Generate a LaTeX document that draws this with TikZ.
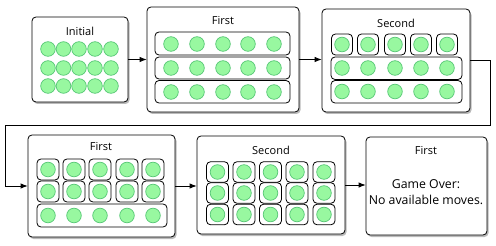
\documentclass[tikz,border=0pt]{standalone}
\usepackage{fontspec}
\setmainfont{Open Sans}
\usetikzlibrary{arrows.meta,shadows,fit}
\definecolor{ballfill}{RGB}{152,248,160}
\definecolor{balldraw}{RGB}{88,200,118}
\begin{document}
\begin{tikzpicture}[x=1pt,y=-1pt,
  panel/.style={draw=black, line width=0.8pt, rounded corners=4pt, fill=white, inner sep=0pt,
    drop shadow={shadow xshift=1.5pt, shadow yshift=-2pt, opacity=0.45, fill=black!60}},
  rowbox/.style={draw=black, line width=0.8pt, rounded corners=4pt, fill=white, inner sep=0pt},
  ball/.style={circle, fill=ballfill, draw=balldraw, line width=0.7pt, minimum size=14.6pt, inner sep=0pt},
  title/.style={font=\fontsize{11}{12}\selectfont, inner sep=0pt},
  conn/.style={draw=black, line width=0.8pt, -{Latex[length=7pt,width=5.5pt]}}]
\useasboundingbox (0,0) rectangle (496,246);

% panels
\node[panel, fit={(32,17) (128,102)}] (p1) {};
\node[panel, fit={(147,7) (299,112)}] (p2) {};
\node[panel, fit={(322,9) (470,112)}] (p3) {};
\node[panel, fit={(28,135) (175,237)}] (p4) {};
\node[panel, fit={(197,136) (345,234)}] (p5) {};
\node[panel, fit={(366,137) (487,235)}] (p6) {};

% titles
\node[title] (t1) at (80,31) {Initial};
\node[title] (t2) at (223,21) {First};
\node[title] (t3) at (396,23) {Second};
\node[title] (t4) at (101,147) {First};
\node[title] (t5) at (271,150) {Second};
\node[title] (t6) at (426,150.5) {First};
\node[title, align=center, font=\fontsize{12.3}{16.3}\selectfont] (t7) at (426,192) {Game Over:\\No available moves.};

% panel 1 balls
\foreach \r/\y in {1/49,2/68,3/86}
  \foreach \c/\x in {1/48,2/63.5,3/79,4/95,5/111}
    \node[ball] (a-\r-\c) at (\x,\y) {};

% panel 2 rows
\node[rowbox, fit={(155,32) (290,55)}] (r2-1) {};
\node[rowbox, fit={(155,57) (290,79)}] (r2-2) {};
\node[rowbox, fit={(155,80.5) (290,103)}] (r2-3) {};
\foreach \r/\y in {1/44,2/68,3/92}
  \foreach \c/\x in {1/171,2/197,3/223,4/248,5/274}
    \node[ball] (b-\r-\c) at (\x,\y) {};

% panel 3
\foreach \c/\x in {1/342,2/368,3/395,4/421,5/447}
  \node[rowbox, minimum width=21pt, minimum height=21pt] (s3-\c) at (\x,44.5) {};
\node[rowbox, fit={(331,57) (462,79.5)}] (r3-2) {};
\node[rowbox, fit={(331,80.5) (462,103)}] (r3-3) {};
\foreach \r/\y in {1/44.5,2/68,3/91.5}
  \foreach \c/\x in {1/342,2/368,3/395,4/421,5/447}
    \node[ball] (c-\r-\c) at (\x,\y) {};

% panel 4
\foreach \r/\y in {1/169.5,2/191.5}
  \foreach \c/\x in {1/48,2/74,3/100,4/127,5/153}
    \node[rowbox, minimum width=22pt, minimum height=21pt] (s4-\r-\c) at (\x,\y) {};
\node[rowbox, fit={(37,204) (167,227)}] (r4-3) {};
\foreach \r/\y in {1/169.5,2/191.5,3/215.5}
  \foreach \c/\x in {1/48,2/74,3/100,4/127,5/153}
    \node[ball] (d-\r-\c) at (\x,\y) {};

% panel 5
\foreach \r/\y in {1/172,2/193,3/214.5}
  \foreach \c/\x in {1/217.5,2/244,3/270.5,4/297,5/324}
    {\node[rowbox, minimum width=22pt, minimum height=20.5pt] (s5-\r-\c) at (\x,\y) {};
     \node[ball] (e-\r-\c) at (\x,\y) {};}

% connectors
\draw[conn] (p1.east) -- (p2.west |- p1.east);
\draw[conn] (p2.east) -- (p3.west |- p2.east);
\coordinate (k1) at (490,125);
\coordinate (k2) at (5,125);
\draw[conn] (p3.east) -| (k1) -- (k2) |- (p4.west);
\draw[conn] (p4.east) -- (p5.west |- p4.east);
\draw[conn] (p5.east) -- (p6.west |- p5.east);
\end{tikzpicture}
\end{document}
